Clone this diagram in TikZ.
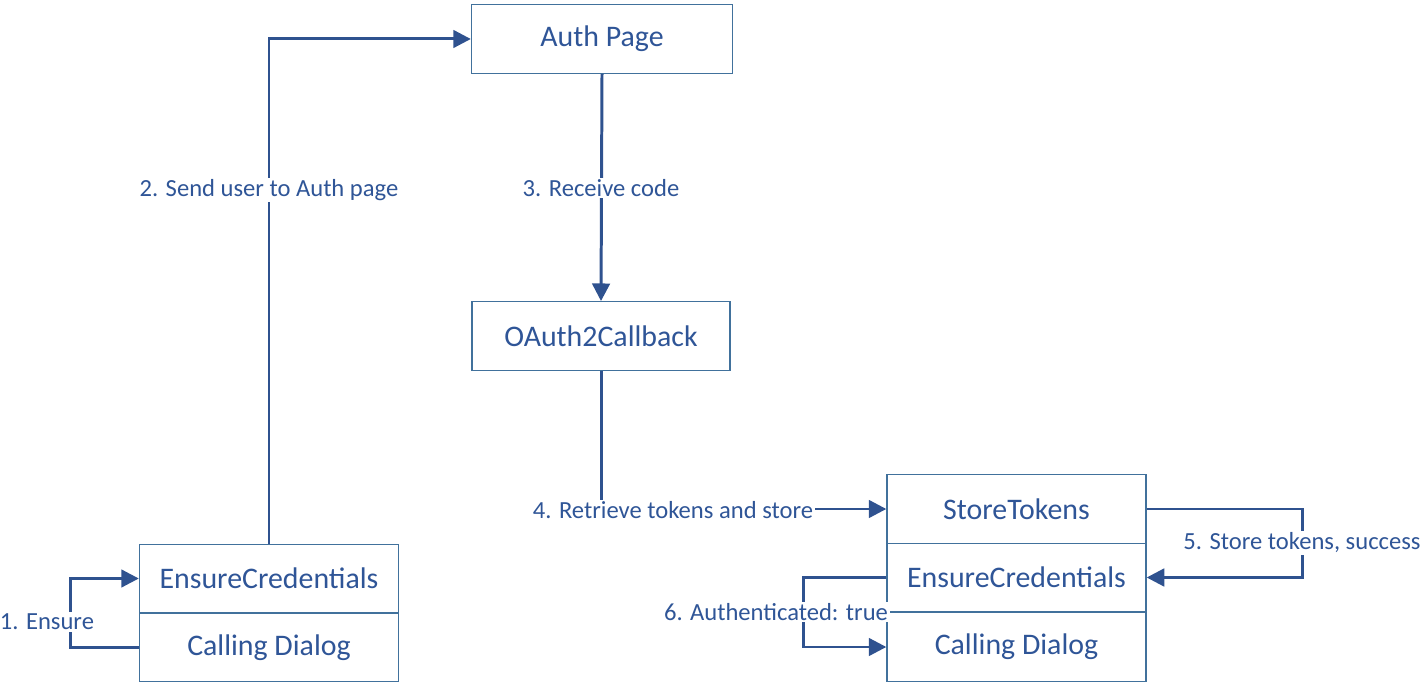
\documentclass[tikz,border=0pt]{standalone}
\usepackage{fontspec}
\setmainfont{Carlito}
\usetikzlibrary{arrows.meta}
\definecolor{boxline}{RGB}{65,113,156}
\definecolor{flowline}{RGB}{47,82,143}
\definecolor{boxtext}{RGB}{47,85,151}
\begin{document}
\begin{tikzpicture}[x=0.02cm,y=-0.02cm,
    box/.style={rectangle,draw=boxline,line width=0.8pt,minimum width=5.18cm,
      minimum height=1.37cm,inner sep=0pt,text=boxtext,
      font=\fontsize{17}{20}\selectfont},
    flow/.style={draw=flowline,line width=1.7pt,
      -{Triangle[length=10pt,width=10pt]}},
    lbl/.style={fill=white,inner sep=1pt,text=boxtext,
      font=\fontsize{14}{16}\selectfont}]
  \useasboundingbox (0,0) rectangle (1425,688);

  % pages
  \node[box,minimum width=5.22cm] (auth) at (602,39) {Auth Page};
  \node[box,minimum width=5.16cm] (oauth) at (601,336) {OAuth2Callback};

  % left stack
  \node[box] (ensL) at (269,578.5) {EnsureCredentials};
  \node[box] (callL) at (269,647.5) {Calling Dialog};

  % right stack
  \node[box] (store) at (1016.5,509) {StoreTokens};
  \node[box] (ensR) at (1016.5,577.5) {EnsureCredentials};
  \node[box] (callR) at (1016.5,647) {Calling Dialog};

  % flow
  \draw[flow] (callL.west) -- ++(-68,0) |- (ensL.west);
  \draw[flow] (ensL.north) |- (auth.west);
  \draw[flow] (auth.south) -- (oauth.north);
  \draw[flow] (oauth.south) |- (store.west);
  \draw[flow] (store.east) -- ++(156,0) |- (ensR.east);
  \draw[flow] (ensR.west) -- ++(-83,0) |- (callR.west);

  % labels
  \node[lbl] (lab1) at (47,622) {1. Ensure};
  \node[lbl] (lab2) at (269,190) {2. Send user to Auth page};
  \node[lbl] (lab3) at (601,188) {3. Receive code};
  \node[lbl] (lab4) at (673,510) {4. Retrieve tokens and store};
  \node[lbl] (lab5) at (1302,543) {5. Store tokens, success};
  \node[lbl] (lab6) at (776,612) {6. Authenticated: true};
\end{tikzpicture}
\end{document}
